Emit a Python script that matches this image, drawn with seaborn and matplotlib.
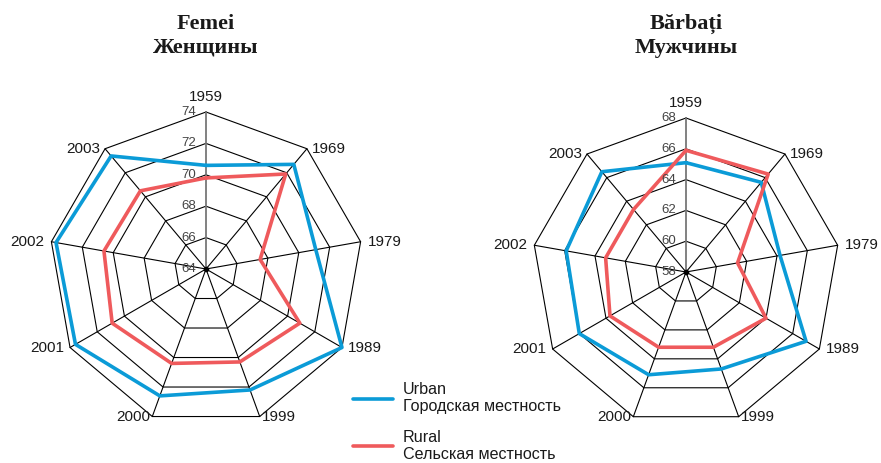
import numpy as np
import pandas as pd
import seaborn as sns
import matplotlib.pyplot as plt
from matplotlib.lines import Line2D

# life expectancy by year
years = ['1959', '1969', '1979', '1989', '1999', '2000', '2001', '2002', '2003']
women_urban = [70.6, 72.7, 71.1, 74.0, 72.2, 72.6, 73.6, 73.7, 73.4]
women_rural = [69.8, 71.9, 67.5, 70.9, 70.3, 70.4, 70.9, 70.6, 70.5]
men_urban = [65.1, 65.6, 64.2, 67.0, 64.7, 65.1, 66.0, 65.9, 66.5]
men_rural = [65.9, 66.3, 61.4, 64.0, 63.2, 63.2, 63.7, 63.3, 63.3]
women_ticks = [64, 66, 68, 70, 72, 74]
men_ticks = [58, 60, 62, 64, 66, 68]

BLUE = '#0b9bd7'
RED = '#ef5a5c'

sns.set_style('white')
plt.rcParams['font.family'] = ['Liberation Sans', 'DejaVu Sans']

fig = plt.figure(figsize=(8.81, 4.63), dpi=100)


def radar(rect, urban, rural, ticks, title, cx):
    ax = fig.add_axes(rect, projection='polar')
    ax.set_theta_zero_location('N')
    ax.set_theta_direction(-1)
    ax.set_ylim(ticks[0], ticks[-1])
    ax.grid(False)
    ax.spines['polar'].set_visible(False)
    ax.set_xticks([])
    ax.set_yticks([])
    ax.patch.set_alpha(0)

    n = len(years)
    theta = np.linspace(0, 2 * np.pi, n + 1)[:-1]
    closed = np.append(theta, 2 * np.pi)

    # polygon grid
    for t in ticks[1:]:
        ax.plot(closed, [t] * (n + 1), color='black', lw=0.8, clip_on=False, zorder=1)
    for i, th in enumerate(theta):
        ax.plot([th, th], [ticks[0], ticks[-1]], color='#777777' if i == 0 else 'black',
                lw=1.3 if i == 0 else 0.8, clip_on=False, zorder=1)
    ax.plot([0], [ticks[0]], 'o', color='black', ms=3, zorder=2)

    df = pd.DataFrame({
        'theta': np.concatenate([closed, closed]),
        'value': urban + [urban[0]] + rural + [rural[0]],
        'area': ['Urban'] * (n + 1) + ['Rural'] * (n + 1),
    })
    sns.lineplot(data=df, x='theta', y='value', hue='area', sort=False, estimator=None,
                 palette={'Urban': BLUE, 'Rural': RED}, lw=2.6, legend=False,
                 clip_on=False, zorder=3, ax=ax)
    ax.set_xlabel('')
    ax.set_ylabel('')

    for t in ticks:
        ax.annotate(str(t), xy=(0, t), xytext=(-10, 0), textcoords='offset pixels',
                    ha='right', va='center', fontsize=9.5, color='#444444', zorder=4)

    for th, yr in zip(theta, years):
        s = np.sin(th)
        ha = 'left' if s > 0.1 else ('right' if s < -0.1 else 'center')
        va = 'bottom' if abs(s) < 0.1 else 'center'
        dy = 8 if abs(s) < 0.1 else 0
        ax.annotate(yr, xy=(th, ticks[-1]), xytext=(7 * s, dy), textcoords='offset pixels',
                    ha=ha, va=va, fontsize=11, color='#1a1a1a', annotation_clip=False)

    fig.text(cx, 1 - 24 / 463, title[0], ha='center', va='center', fontsize=16,
             fontweight='bold', family='Liberation Serif', color='#1a1a1a')
    fig.text(cx, 1 - 47.5 / 463, title[1], ha='center', va='center', fontsize=16,
             fontweight='bold', family='Liberation Serif', color='#1a1a1a')
    return ax


radar([49 / 881, 37 / 463, 314 / 881, 314 / 463], women_urban, women_rural,
      women_ticks, ('Femei', 'Женщины'), 206 / 881)
radar([532 / 881, 37 / 463, 308 / 881, 308 / 463], men_urban, men_rural,
      men_ticks, ('Bărbați', 'Мужчины'), 686 / 881)

handles = [Line2D([], [], color=BLUE, lw=2.6), Line2D([], [], color=RED, lw=2.6)]
leg = fig.legend(handles, ['Urban\nГородская местность', 'Rural\nСельская местность'],
                 loc='upper left', bbox_to_anchor=(353 / 881, 1 - 382 / 463), frameon=False,
                 fontsize=11.6, handlelength=2.5, handletextpad=0.6, labelspacing=0.95,
                 borderpad=0, borderaxespad=0, labelcolor='#1a1a1a')
for txt in leg.get_texts():
    txt.set_linespacing(1.2)

fig.savefig('out.png', dpi=100)
